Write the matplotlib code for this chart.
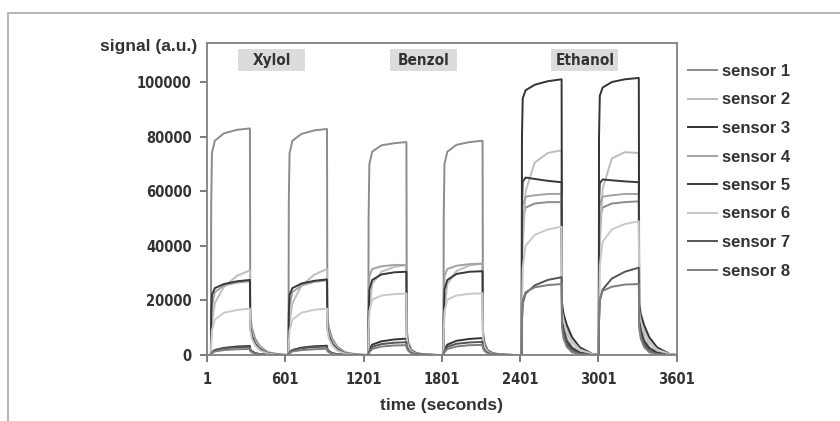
import matplotlib.pyplot as plt
import matplotlib.patches as patches
import numpy as np

# time points (s) read per exposure pulse: rise, plateau, fall, recovery
pulse_times = [
    [31, 33, 39, 61, 131, 231, 330, 333, 345, 370, 410, 470, 570],
    [626, 628, 634, 656, 726, 826, 921, 924, 936, 961, 1001, 1061, 1161],
    [1238, 1240, 1246, 1268, 1338, 1438, 1530, 1533, 1545, 1570, 1610, 1670, 1770],
    [1814, 1816, 1822, 1844, 1914, 2014, 2114, 2117, 2129, 2154, 2194, 2254, 2354],
    [2414, 2416, 2422, 2444, 2514, 2614, 2720, 2723, 2735, 2760, 2800, 2860, 2960],
    [3005, 3007, 3013, 3035, 3105, 3205, 3312, 3315, 3327, 3352, 3392, 3452, 3552],
]

# signal in thousands a.u., one row per pulse
sensor1 = [
    [0, 55, 74, 78.5, 81.2, 82.5, 83, 14, 10, 6, 3, 1, 0.1],
    [0, 55, 74, 78.5, 81, 82.3, 82.8, 14, 10, 6, 3, 1, 0.1],
    [0, 50, 70, 74.5, 76.8, 77.6, 78, 9, 4.5, 1.8, 0.7, 0.2, 0],
    [0, 50, 70, 74.5, 77, 78, 78.5, 9, 4.5, 1.8, 0.7, 0.2, 0],
    [0, 35, 50, 54, 55.5, 56, 56, 17, 13, 9, 5, 2, 0.2],
    [0, 35, 50, 54, 55.5, 56, 56.3, 17, 13, 9, 5, 2, 0.2],
]
sensor2 = [
    [0, 6, 12, 19, 25, 29, 31, 12, 8.5, 5, 2.5, 0.8, 0.1],
    [0, 6, 12, 19, 25.5, 29.5, 31.5, 12, 8.5, 5, 2.5, 0.8, 0.1],
    [0, 8, 17, 26, 30.5, 32.3, 33, 7, 3.5, 1.4, 0.5, 0.1, 0],
    [0, 8, 17, 26, 30.8, 32.8, 33.5, 7, 3.5, 1.4, 0.5, 0.1, 0],
    [0, 20, 40, 60, 70.5, 74, 75, 16, 12, 8, 4.5, 1.8, 0.2],
    [0, 20, 40, 61, 72, 74.3, 74, 16, 12, 8, 4.5, 1.8, 0.2],
]
sensor3 = [
    [0, 0.3, 0.8, 1.8, 2.6, 3.1, 3.3, 2, 1.4, 0.7, 0.3, 0.1, 0],
    [0, 0.3, 0.8, 1.8, 2.7, 3.2, 3.4, 2, 1.4, 0.7, 0.3, 0.1, 0],
    [0, 0.8, 2, 3.8, 5, 5.7, 6, 3.5, 2, 0.8, 0.3, 0.1, 0],
    [0, 0.8, 2, 3.8, 5.2, 5.9, 6.2, 3.5, 2, 0.8, 0.3, 0.1, 0],
    [0, 80, 94, 97, 99, 100.3, 101, 19, 15, 11, 6.5, 2.8, 0.3],
    [0, 80, 95, 98, 100, 101, 101.5, 19, 15, 11, 6.5, 2.8, 0.3],
]
sensor4 = [
    [0, 10, 18, 23, 25.5, 26.5, 27, 11, 7.5, 4.5, 2.2, 0.7, 0.1],
    [0, 10, 18, 23, 25.5, 26.8, 27.3, 11, 7.5, 4.5, 2.2, 0.7, 0.1],
    [0, 20, 29, 31.5, 32.5, 33, 33, 7.5, 4, 1.6, 0.6, 0.2, 0],
    [0, 20, 29, 31.5, 32.7, 33.3, 33.5, 7.5, 4, 1.6, 0.6, 0.2, 0],
    [0, 40, 55, 58, 58.5, 59, 59, 15, 10, 6, 3, 1, 0.1],
    [0, 40, 55, 58, 58.5, 59, 59, 15, 10, 6, 3, 1, 0.1],
]
sensor5 = [
    [0, 15, 22, 24.5, 26, 27, 27.5, 10, 7, 4, 2, 0.6, 0.1],
    [0, 15, 22, 24.5, 26.2, 27.2, 27.7, 10, 7, 4, 2, 0.6, 0.1],
    [0, 14, 24, 27.5, 29.5, 30.3, 30.5, 7, 3.5, 1.4, 0.5, 0.1, 0],
    [0, 14, 24, 27.5, 29.7, 30.5, 30.7, 7, 3.5, 1.4, 0.5, 0.1, 0],
    [0, 55, 63.5, 65, 64.5, 63.8, 63.3, 14, 9, 5, 2.5, 0.8, 0.1],
    [0, 55, 63, 64.3, 64, 63.6, 63.3, 14, 9, 5, 2.5, 0.8, 0.1],
]
sensor6 = [
    [0, 4, 9, 13, 15.5, 16.5, 17, 9, 6, 3.5, 1.6, 0.5, 0.05],
    [0, 4, 9, 13, 15.5, 16.6, 17, 9, 6, 3.5, 1.6, 0.5, 0.05],
    [0, 8, 16, 20.3, 21.8, 22.3, 22.5, 6, 3, 1.2, 0.4, 0.1, 0],
    [0, 8, 16, 20.3, 21.8, 22.4, 22.6, 6, 3, 1.2, 0.4, 0.1, 0],
    [0, 15, 32, 40, 44, 46, 47, 16, 12.5, 8.5, 5, 2, 0.3],
    [0, 15, 33, 41.5, 46, 48, 49, 16, 12.5, 8.5, 5, 2, 0.3],
]
sensor7 = [
    [0, 0.4, 1, 1.8, 2.5, 2.8, 3, 1.8, 1.2, 0.6, 0.2, 0.05, 0],
    [0, 0.4, 1, 1.8, 2.5, 2.9, 3.1, 1.8, 1.2, 0.6, 0.2, 0.05, 0],
    [0, 0.6, 1.5, 3, 4, 4.5, 4.7, 3, 1.8, 0.7, 0.3, 0.1, 0],
    [0, 0.6, 1.5, 3, 4.1, 4.6, 4.8, 3, 1.8, 0.7, 0.3, 0.1, 0],
    [0, 12, 19, 22.5, 25.5, 27.5, 28.5, 12, 8, 4, 1.5, 0.4, 0],
    [0, 12, 20, 24, 28, 30.5, 32, 12, 8, 4, 1.5, 0.4, 0],
]
sensor8 = [
    [0, 0.3, 0.7, 1.3, 1.8, 2.1, 2.2, 1.4, 1, 0.5, 0.2, 0.05, 0],
    [0, 0.3, 0.7, 1.3, 1.8, 2.1, 2.3, 1.4, 1, 0.5, 0.2, 0.05, 0],
    [0, 0.5, 1, 2.2, 3.1, 3.5, 3.6, 2.5, 1.5, 0.6, 0.2, 0.05, 0],
    [0, 0.5, 1, 2.2, 3.1, 3.6, 3.7, 2.5, 1.5, 0.6, 0.2, 0.05, 0],
    [0, 13, 20, 23, 24.8, 25.6, 26, 10, 6, 3, 1, 0.3, 0],
    [0, 13, 20.5, 23.5, 25, 25.8, 26, 10, 6, 3, 1, 0.3, 0],
]

sensors = [sensor1, sensor2, sensor3, sensor4, sensor5, sensor6, sensor7, sensor8]
labels = ['sensor %d' % (i + 1) for i in range(8)]
colors = ['#8c8c8c', '#bdbdbd', '#333333', '#a3a3a3', '#383838', '#c9c9c9', '#555555', '#7d7d7d']

gases = ['Xylol', 'Benzol', 'Ethanol']
gas_centers = [498, 1663, 2898]
xticks = [1, 601, 1201, 1801, 2401, 3001, 3601]
yticks = [0, 20000, 40000, 60000, 80000, 100000]

narrow = dict(family=['Liberation Sans Narrow', 'DejaVu Sans'], stretch='condensed', weight='bold')
boldfont = dict(family=['Liberation Sans', 'DejaVu Sans'], weight='bold')

fig = plt.figure(figsize=(8.4, 4.21), dpi=100)
fig.patches.append(patches.Rectangle((8 / 840, -0.05), 1.0, 1.02 - 13 / 421 + 0.03,
                                     transform=fig.transFigure, fill=False,
                                     edgecolor='#b0b0b0', linewidth=1.3))
ax = fig.add_axes([207 / 840, 1 - 355 / 421, 469.5 / 840, 312 / 421])

t = np.concatenate([[1]] + [np.array(p, dtype=float) for p in pulse_times] + [[3601]])
for values, lab, col in zip(sensors, labels, colors):
    y = np.concatenate([[0]] + [np.array(p, dtype=float) for p in values] + [[0]]) * 1000
    ax.plot(t, y, color=col, linewidth=1.4, label=lab)

ax.set_xlim(1, 3601)
ax.set_ylim(0, 114300)
ax.set_xticks(xticks)
ax.set_yticks(yticks)
ax.set_xticklabels([str(v) for v in xticks], size=10.5, color='#333333', **narrow)
ax.set_yticklabels([str(v) for v in yticks], size=10.5, color='#333333', **narrow)
ax.tick_params(direction='out', length=5, width=1.2, color='#666666')
ax.tick_params(axis='y', pad=6)
ax.tick_params(axis='x', pad=7)
for s in ax.spines.values():
    s.set_color('#808080')
    s.set_linewidth(1.3)

# grey boxes behind the analyte names
for g, c in zip(gases, gas_centers):
    ax.add_patch(patches.Rectangle((c - 257, 104000), 514, 8100, facecolor='#dcdcdc',
                                   edgecolor='none', zorder=1))
    ax.text(c, 108050, g, ha='center', va='center', size=11, color='#333333', zorder=2, **narrow)

fig.text(197 / 840, 1 - 47 / 421, 'signal (a.u.)', ha='right', va='center',
         size=12.5, color='#333333', **boldfont)
ax.set_xlabel('time (seconds)', size=12.5, color='#333333', labelpad=8, **boldfont)

fig.legend(loc='upper left', bbox_to_anchor=(673 / 840, 1 - 49 / 421), frameon=False,
           prop=dict(size=12, **boldfont),
           labelcolor='#333333', handlelength=1.75, handletextpad=0.3, labelspacing=0.81)

plt.savefig('out.png', dpi=100)
